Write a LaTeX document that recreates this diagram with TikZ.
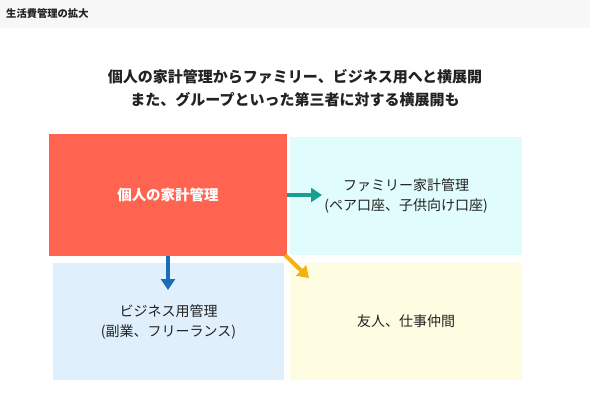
\documentclass[tikz,border=0pt]{standalone}
\usepackage{fontspec}
\setmainfont{Noto Sans CJK JP}
\usetikzlibrary{arrows.meta}
\definecolor{kojinred}{HTML}{FF6450}
\definecolor{familycyan}{HTML}{E0FCFC}
\definecolor{businessblue}{HTML}{DFF0FC}
\definecolor{yuujinyellow}{HTML}{FFFDE1}
\definecolor{tealarrow}{HTML}{16A091}
\definecolor{bluearrow}{HTML}{1B6DB6}
\definecolor{orangearrow}{HTML}{F4B00E}
\definecolor{headgray}{HTML}{F7F7F7}
\definecolor{textgray}{HTML}{222222}
\tikzset{
	panel/.style={inner sep=0pt,align=center,text=textgray,font=\fontsize{14}{20}\selectfont},
	expand/.style={line width=4pt,-{Triangle[width=14pt,length=11pt]}}
}
\begin{document}
\begin{tikzpicture}[x=1pt,y=-1pt]
				\useasboundingbox (0,0) rectangle (590,413);
				\fill[headgray] (0,0) rectangle (590,28);
				\node[anchor=west,inner sep=0pt,font=\bfseries\fontsize{10.3}{12}\selectfont,text=textgray] (heading) at (6,14) {生活費管理の拡大};
				\node[align=center,inner sep=0pt,font=\bfseries\fontsize{15}{23}\selectfont,text=textgray] (lead) at (295,88.5) {個人の家計管理からファミリー、ビジネス用へと横展開\\また、グループといった第三者に対する横展開も};
				\node[panel,fill=kojinred,text=white,font=\bfseries\fontsize{14.5}{20}\selectfont,minimum width=238pt,minimum height=122pt] (kojin) at (168,195) {個人の家計管理};
				\node[panel,fill=familycyan,minimum width=232pt,minimum height=118pt] (family) at (406,196) {ファミリー家計管理\\(ペア口座、子供向け口座)};
				\node[panel,fill=businessblue,minimum width=231pt,minimum height=117pt] (business) at (168.5,321.5) {ビジネス用管理\\(副業、フリーランス)};
				\node[panel,fill=yuujinyellow,minimum width=232pt,minimum height=117pt] (yuujin) at (406,321.5) {友人、仕事仲間};
				\coordinate (familytip) at (322,195);
				\coordinate (businesstip) at (168,290);
				\coordinate (yuujintip) at (309,278);
				\draw[expand,tealarrow] (kojin.east) -- (familytip);
				\draw[expand,bluearrow] (kojin.south) -- (businesstip);
				\draw[expand,orangearrow] ([shift={(-2,-1)}]kojin.south east) -- (yuujintip);
				\end{tikzpicture}
\end{document}
